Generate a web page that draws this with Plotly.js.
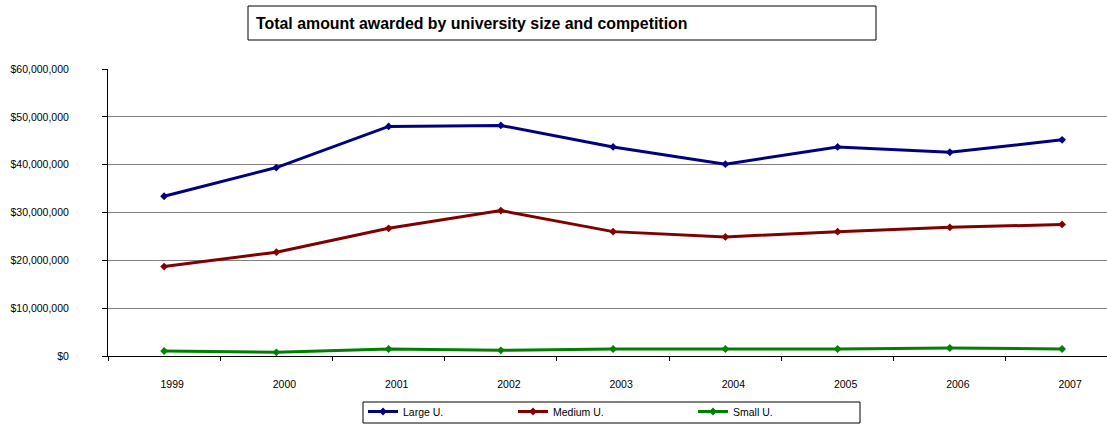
<!DOCTYPE html>
<html>
<head>
<meta charset="utf-8">
<script src="https://cdn.plot.ly/plotly-3.0.1.min.js"></script>
<style>
  html, body { margin: 0; padding: 0; background: #ffffff; overflow: hidden; }
  #chart { width: 1107px; height: 424px; overflow: hidden; }
</style>
</head>
<body>
<div id="chart"></div>
<script>
// ---- Data ----
var years = ["1999", "2000", "2001", "2002", "2003", "2004", "2005", "2006", "2007"];
var largeU  = [33400000, 39400000, 48000000, 48200000, 43700000, 40100000, 43700000, 42600000, 45200000];
var mediumU = [18700000, 21700000, 26700000, 30400000, 26000000, 24900000, 26000000, 26900000, 27500000];
var smallU  = [1050000, 770000, 1460000, 1190000, 1460000, 1460000, 1460000, 1670000, 1460000];
var seriesNames = ["Large U.", "Medium U.", "Small U."];
var seriesColors = ["#000080", "#800000", "#008000"];
var titleText = "Total amount awarded by university size and competition";

var fontFamily = "Liberation Sans, Arial, Helvetica, sans-serif";

// Figure geometry (pixels)
var W = 1107, H = 430;           // slightly taller than the window; bottom rows are cropped
var ML = 108, MR = 0, MT = 69, MB = 74;
var plotW = W - ML - MR, plotH = H - MT - MB;
function px2x(px) { return (px - ML) / plotW; }
function px2y(py) { return (H - MB - py) / plotH; }

function mk(name, values, color, legendId) {
  return {
    type: "scatter",
    mode: "lines+markers",
    name: name,
    x: years,
    y: values,
    legend: legendId,
    line: { color: color, width: 3 },
    marker: { symbol: "diamond", size: 6, color: color }
  };
}

var data = [
  mk(seriesNames[0], largeU, seriesColors[0], "legend"),
  mk(seriesNames[1], mediumU, seriesColors[1], "legend2"),
  mk(seriesNames[2], smallU, seriesColors[2], "legend3")
];

function legendAt(leftPx) {
  return {
    orientation: "h",
    xref: "paper", x: px2x(leftPx), xanchor: "left",
    yref: "paper", y: px2y(397), yanchor: "top",
    borderwidth: 0,
    bgcolor: "rgba(0,0,0,0)",
    font: { family: fontFamily, size: 10.5, color: "#000000" },
    itemclick: false,
    itemdoubleclick: false
  };
}

var layout = {
  width: W,
  height: H,
  margin: { l: ML, r: MR, t: MT, b: MB, pad: 0 },
  paper_bgcolor: "#ffffff",
  plot_bgcolor: "#ffffff",
  font: { family: fontFamily, size: 11, color: "#000000" },
  showlegend: true,
  title: {
    text: titleText,
    font: { family: fontFamily, size: 15.9, weight: "bold", color: "#000000" },
    xref: "container", x: 256 / W, xanchor: "left",
    yref: "container", y: 1 - 23 / H, yanchor: "middle"
  },
  xaxis: {
    type: "category",
    range: [-0.5, 8.4],
    tickson: "boundaries",
    ticks: "outside",
    ticklen: 4,
    tickcolor: "#000000",
    showgrid: false,
    showline: true,
    linecolor: "#000000",
    linewidth: 1,
    zeroline: false,
    tickfont: { family: fontFamily, size: 10.5, color: "#000000" },
    ticklabelstandoff: 18,
    ticklabelshift: 8,
    fixedrange: true
  },
  yaxis: {
    range: [0, 60000000],
    tick0: 0,
    dtick: 10000000,
    tickformat: "$,.0f",
    ticks: "outside",
    ticklen: 5,
    tickcolor: "#000000",
    showgrid: true,
    gridcolor: "#808080",
    gridwidth: 1,
    showline: true,
    linecolor: "#000000",
    linewidth: 1,
    zeroline: false,
    tickfont: { family: fontFamily, size: 10.5, color: "#000000" },
    ticklabelstandoff: 31,
    fixedrange: true
  },
  legend: legendAt(363),
  legend2: legendAt(513),
  legend3: legendAt(693),
  shapes: [
    {
      type: "rect",
      xref: "paper", yref: "paper",
      x0: px2x(248), x1: px2x(876),
      y0: px2y(40), y1: px2y(6),
      line: { color: "#000000", width: 1 },
      fillcolor: "rgba(0,0,0,0)",
      layer: "below"
    },
    {
      type: "rect",
      xref: "paper", yref: "paper",
      x0: px2x(363), x1: px2x(860),
      y0: px2y(423), y1: px2y(402),
      line: { color: "#000000", width: 1 },
      fillcolor: "rgba(0,0,0,0)",
      layer: "below"
    }
  ]
};

Plotly.newPlot("chart", data, layout, { displayModeBar: false, staticPlot: true });
</script>
</body>
</html>
